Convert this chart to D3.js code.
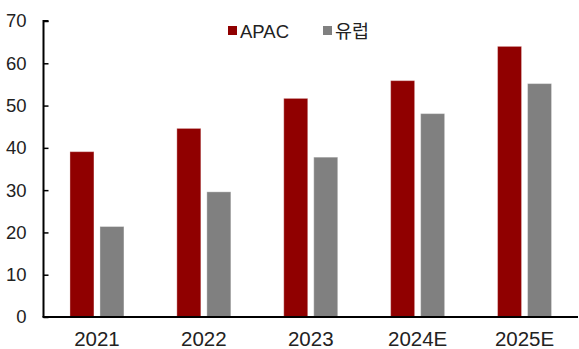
<!DOCTYPE html>
<html>
<head>
<meta charset="utf-8">
<script src="https://cdn.jsdelivr.net/npm/d3@7"></script>
<style>
  html, body { margin: 0; padding: 0; background: #fff; }
  svg { display: block; font-family: "Liberation Sans", Arial, sans-serif; }
</style>
</head>
<body>
<svg id="chart" width="579" height="349"></svg>
<script>
// Market size by region
const categories = ["2021", "2022", "2023", "2024E", "2025E"];
const seriesNames = ["APAC", "유럽"];
const apacValues = [39.1, 44.6, 51.7, 55.9, 64.0];
const europeValues = [21.4, 29.6, 37.8, 48.1, 55.2];
const yTicks = [0, 10, 20, 30, 40, 50, 60, 70];
const colors = ["#900000", "#808080"];

const svg = d3.select("#chart");
const plotLeft = 43.5, plotRight = 578, plotTop = 21, plotBottom = 317;

const x0 = d3.scaleBand().domain(categories).range([plotLeft, plotRight]).paddingInner(0).paddingOuter(0);
const groupW = 54;
const x1 = d3.scaleBand().domain(seriesNames).range([0, groupW]).paddingInner(0.2);
const y = d3.scaleLinear().domain([0, 70]).range([plotBottom, plotTop]);

const rows = categories.map((c, i) => ({ cat: c, vals: [apacValues[i], europeValues[i]] }));

// bars
const groups = svg.append("g").selectAll("g").data(rows).join("g")
  .attr("transform", d => `translate(${x0(d.cat) + (x0.bandwidth() - groupW) / 2},0)`);
groups.selectAll("rect")
  .data(d => d.vals.map((v, k) => ({ name: seriesNames[k], v, k })))
  .join("rect")
  .attr("x", d => x1(d.name))
  .attr("width", x1.bandwidth())
  .attr("y", d => y(d.v))
  .attr("height", d => y(0) - y(d.v))
  .attr("fill", d => colors[d.k])
  .attr("stroke", "rgba(255,255,255,0.35)")
  .attr("stroke-width", 1);

// y axis
const yAxis = d3.axisLeft(y).tickValues(yTicks).tickSize(-5).tickPadding(17);
const gy = svg.append("g").attr("transform", `translate(${plotLeft},0)`).call(yAxis);
gy.select(".domain").attr("d", `M5,${plotTop}H0V${plotBottom}`).attr("stroke", "#000").attr("stroke-width", 2);
gy.selectAll(".tick line").attr("stroke", "#000").attr("stroke-width", 1.5);
gy.selectAll(".tick text").attr("font-size", 18.5).attr("fill", "#222")
  .attr("font-family", "'Liberation Sans', Arial, sans-serif");

// x axis
const xAxis = d3.axisBottom(x0).tickSize(0).tickPadding(14);
const gx = svg.append("g").attr("transform", `translate(0,${plotBottom})`).call(xAxis);
gx.select(".domain").attr("d", `M${plotLeft - 1},0H${plotRight}`).attr("stroke", "#000").attr("stroke-width", 2);
gx.selectAll(".tick text").attr("font-size", 20.5).attr("fill", "#222")
  .attr("font-family", "'Liberation Sans Narrow', 'Arial Narrow', sans-serif");

// legend
const legend = svg.append("g");
const legendItems = [{ name: "APAC", x: 228 }, { name: "유럽", x: 323 }];
legendItems.forEach((it, i) => {
  legend.append("rect").attr("x", it.x).attr("y", 26).attr("width", 9).attr("height", 9).attr("fill", colors[i]);
  legend.append("text").attr("x", it.x + 12).attr("y", 37.5)
    .attr("font-size", 18.5).attr("fill", "#222")
    .attr("font-family", "'Liberation Sans', 'Noto Sans CJK KR', sans-serif")
    .text(it.name);
});
</script>
</body>
</html>
